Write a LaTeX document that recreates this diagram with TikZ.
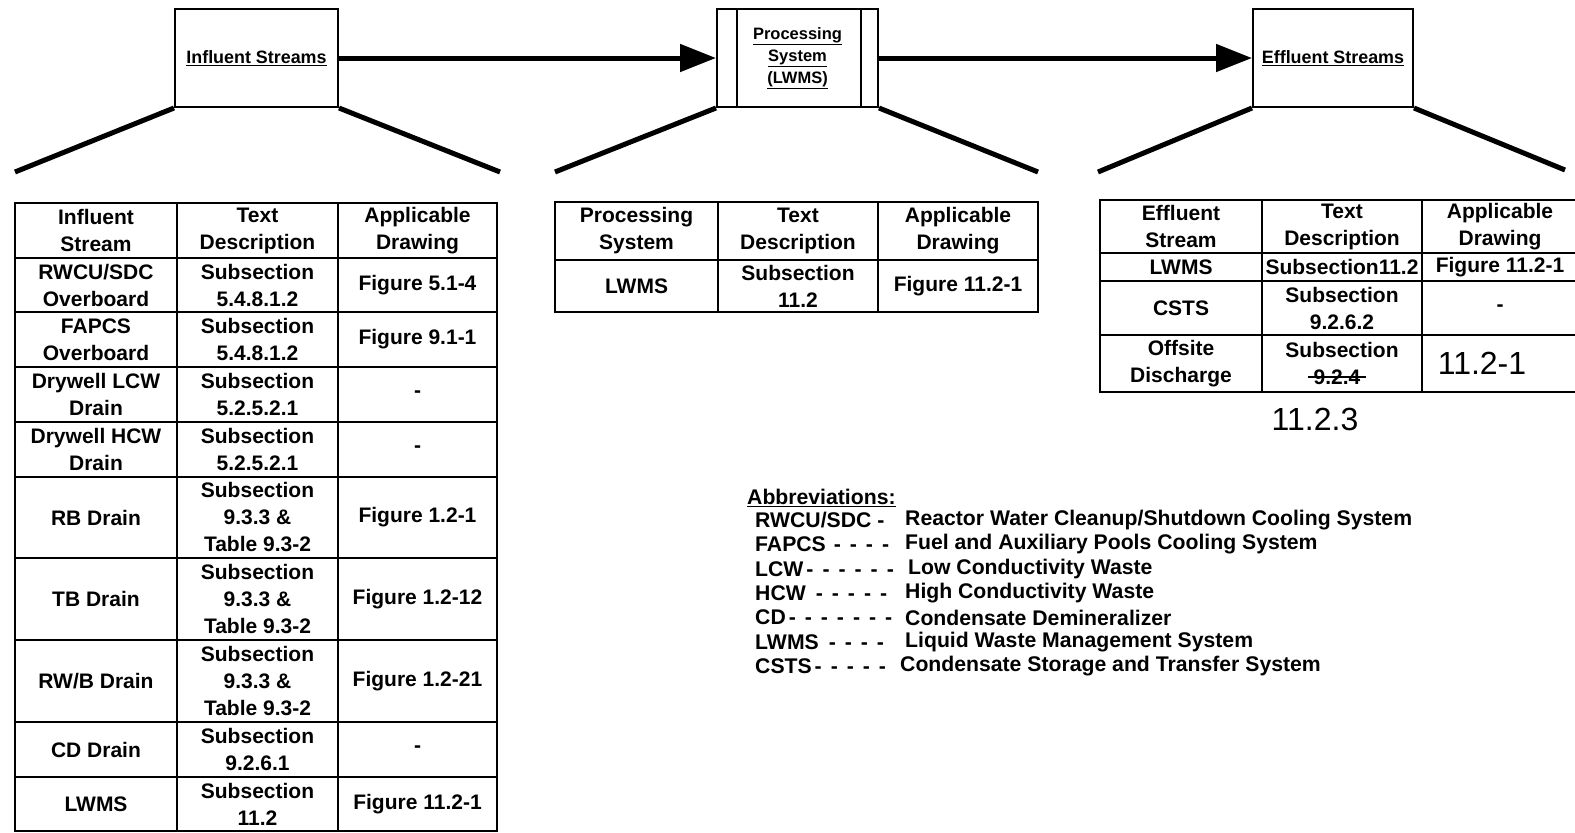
\documentclass[tikz,border=0pt]{standalone}
\usepackage{fontspec}
\usetikzlibrary{arrows.meta}
\newfontfamily\tabfont{Liberation Sans}
\newfontfamily\handfont{Liberation Sans}
\newcommand{\dsh}{\hspace{9pt}-}

\begin{document}
\begin{tikzpicture}[x=1pt,y=-1pt,
    box/.style={draw,line width=2pt,inner sep=0pt},
    lbl/.style={font=\tabfont\bfseries\fontsize{17.9}{23}\selectfont,align=center},
    flow/.style={line width=5pt,-{Triangle[length=36pt,width=27pt]}},
    funnel/.style={line width=5pt},
    tabline/.style={line width=2.5pt},
    colline/.style={line width=2pt},
    cell/.style={font=\tabfont\bfseries\fontsize{21}{27}\selectfont,align=center,inner sep=0pt},
    abb/.style={font=\tabfont\bfseries\fontsize{21.2}{25}\selectfont,anchor=west,inner sep=0pt},
    hand/.style={font=\handfont\fontsize{32}{34}\selectfont,inner sep=0pt}]
    \useasboundingbox (0,0) rectangle (1575,833);

    % the three blocks and the flow between them
    \node[box,lbl,minimum width=163pt,minimum height=98pt] (infBox) at (256.5,58) {\underline{Influent Streams}};
    \node[box,lbl,font=\tabfont\bfseries\fontsize{16.5}{22}\selectfont,minimum width=161pt,minimum height=98pt] (procBox) at (797.5,58) {\underline{Processing}\\\underline{System}\\\underline{(LWMS)}};
    \node[box,lbl,minimum width=160pt,minimum height=98pt] (effBox) at (1333,58) {\underline{Effluent Streams}};
    \draw[line width=2pt] ([xshift=21pt]procBox.north west) -- ([xshift=21pt]procBox.south west);
    \draw[line width=2pt] ([xshift=-18pt]procBox.north east) -- ([xshift=-18pt]procBox.south east);

    \draw[flow] (infBox.east) -- (procBox.west);
    \draw[flow] (procBox.east) -- (effBox.west);

    % funnels down to the tables
    \coordinate (infL) at (15,172);
    \coordinate (infR) at (500,172);
    \coordinate (procL) at (555,172);
    \coordinate (procR) at (1038,172);
    \coordinate (effL) at (1098,172);
    \coordinate (effR) at (1565,170);
    \draw[funnel] (infBox.south west) -- (infL);
    \draw[funnel] (infBox.south east) -- (infR);
    \draw[funnel] (procBox.south west) -- (procL);
    \draw[funnel] (procBox.south east) -- (procR);
    \draw[funnel] (effBox.south west) -- (effL);
    \draw[funnel] (effBox.south east) -- (effR);

    % influent table
    \draw[tabline] (15,203) rectangle (497,831);
    \draw[tabline] (15,258) -- (497,258);
    \draw[tabline] (15,312) -- (497,312);
    \draw[tabline] (15,367) -- (497,367);
    \draw[tabline] (15,422) -- (497,422);
    \draw[tabline] (15,477) -- (497,477);
    \draw[tabline] (15,558) -- (497,558);
    \draw[tabline] (15,640) -- (497,640);
    \draw[tabline] (15,722) -- (497,722);
    \draw[tabline] (15,777) -- (497,777);
    \draw[colline] (177,203) -- (177,831);
    \draw[colline] (338,203) -- (338,831);

    \node[cell] (infHdA) at (96,230.5) {Influent\\Stream};
    \node[cell] (infHdB) at (257.5,230.5) {Text\\Description};
    \node[cell] (infHdC) at (417.5,230.5) {Applicable\\Drawing};
    \node[cell] (inf1A) at (96,285) {RWCU/SDC\\Overboard};
    \node[cell] (inf1B) at (257.5,285) {Subsection\\5.4.8.1.2};
    \node[cell] (inf1C) at (417.5,285) {Figure 5.1-4};
    \node[cell] (inf2A) at (96,339.5) {FAPCS\\Overboard};
    \node[cell] (inf2B) at (257.5,339.5) {Subsection\\5.4.8.1.2};
    \node[cell] (inf2C) at (417.5,339.5) {Figure 9.1-1};
    \node[cell] (inf3A) at (96,394.5) {Drywell LCW\\Drain};
    \node[cell] (inf3B) at (257.5,394.5) {Subsection\\5.2.5.2.1};
    \node[cell] (inf3C) at (417.5,394.5) {-};
    \node[cell] (inf4A) at (96,449.5) {Drywell HCW\\Drain};
    \node[cell] (inf4B) at (257.5,449.5) {Subsection\\5.2.5.2.1};
    \node[cell] (inf4C) at (417.5,449.5) {-};
    \node[cell] (inf5A) at (96,517.5) {RB Drain};
    \node[cell] (inf5B) at (257.5,517.5) {Subsection\\9.3.3 \&\\Table 9.3-2};
    \node[cell] (inf5C) at (417.5,517.5) {Figure 1.2-1};
    \node[cell] (inf6A) at (96,599) {TB Drain};
    \node[cell] (inf6B) at (257.5,599) {Subsection\\9.3.3 \&\\Table 9.3-2};
    \node[cell] (inf6C) at (417.5,599) {Figure 1.2-12};
    \node[cell] (inf7A) at (96,681) {RW/B Drain};
    \node[cell] (inf7B) at (257.5,681) {Subsection\\9.3.3 \&\\Table 9.3-2};
    \node[cell] (inf7C) at (417.5,681) {Figure 1.2-21};
    \node[cell] (inf8A) at (96,749.5) {CD Drain};
    \node[cell] (inf8B) at (257.5,749.5) {Subsection\\9.2.6.1};
    \node[cell] (inf8C) at (417.5,749.5) {-};
    \node[cell] (inf9A) at (96,804) {LWMS};
    \node[cell] (inf9B) at (257.5,804) {Subsection\\11.2};
    \node[cell] (inf9C) at (417.5,804) {Figure 11.2-1};

    % processing table
    \draw[tabline] (555,202) rectangle (1038,312);
    \draw[tabline] (555,260) -- (1038,260);
    \draw[colline] (718,202) -- (718,312);
    \draw[colline] (878,202) -- (878,312);

    \node[cell] (procHdA) at (636.5,231) {Processing\\System};
    \node[cell] (procHdB) at (798,231) {Text\\Description};
    \node[cell] (procHdC) at (958,231) {Applicable\\Drawing};
    \node[cell] (proc1A) at (636.5,286) {LWMS};
    \node[cell] (proc1B) at (798,286) {Subsection\\11.2};
    \node[cell] (proc1C) at (958,286) {Figure 11.2-1};

    % effluent table
    \draw[tabline] (1575,200) -- (1100,200) -- (1100,392) -- (1575,392);
    \draw[tabline] (1100,253) -- (1575,253);
    \draw[tabline] (1100,281) -- (1575,281);
    \draw[tabline] (1100,335) -- (1575,335);
    \draw[colline] (1262,200) -- (1262,392);
    \draw[colline] (1422,200) -- (1422,392);

    \node[cell] (effHdA) at (1181,226.5) {Effluent\\Stream};
    \node[cell] (effHdB) at (1342,226.5) {Text\\Description};
    \node[cell] (effHdC) at (1500,226.5) {Applicable\\Drawing};
    \node[cell] (eff1A) at (1181,267) {LWMS};
    \node[cell] (eff1B) at (1342,267) {Subsection11.2};
    \node[cell] (eff1C) at (1500,267) {Figure 11.2-1};
    \node[cell] (eff2A) at (1181,308) {CSTS};
    \node[cell] (eff2B) at (1342,308) {Subsection\\9.2.6.2};
    \node[cell] (eff2C) at (1500,308) {-};
    \node[cell] (eff3A) at (1181,363.5) {Offsite\\Discharge};
    \node[cell] (eff3B) at (1342,350) {Subsection};
    \node[cell] (effOld) at (1337,377) {9.2.4};
    \draw[line width=1.5pt] ([xshift=-5pt]effOld.west) -- ([xshift=5pt]effOld.east);
    \node[hand] (effNewFig) at (1482,363) {11.2-1};
    \node[hand] (effNewSub) at (1315,419) {11.2.3};

    % abbreviations
    \node[abb] (abbHead) at (747,498) {\underline{Abbreviations:}};
    \node[abb] (abbT1) at (755,520) {RWCU/SDC\hspace{6pt}-};
    \node[abb] (abbD1) at (905,520) {Reactor Water Cleanup/Shutdown Cooling System};
    \node[abb] (abbT2) at (755,544.5) {FAPCS\hspace{8pt}-\dsh\dsh\dsh};
    \node[abb] (abbD2) at (905,544.5) {Fuel and Auxiliary Pools Cooling System};
    \node[abb] (abbT3) at (755,569) {LCW\hspace{3pt}-\dsh\dsh\dsh\dsh\dsh};
    \node[abb] (abbD3) at (908,569) {Low Conductivity Waste};
    \node[abb] (abbT4) at (755,593) {HCW\hspace{10pt}-\dsh\dsh\dsh\dsh};
    \node[abb] (abbD4) at (905,593) {High Conductivity Waste};
    \node[abb] (abbT5) at (755,617.5) {CD\hspace{3pt}-\dsh\dsh\dsh\dsh\dsh\dsh};
    \node[abb] (abbD5) at (905,617.5) {Condensate Demineralizer};
    \node[abb] (abbT6) at (755,642) {LWMS\hspace{10pt}-\dsh\dsh\dsh};
    \node[abb] (abbD6) at (905,642) {Liquid Waste Management System};
    \node[abb] (abbT7) at (755,666) {CSTS\hspace{3pt}-\dsh\dsh\dsh\dsh};
    \node[abb] (abbD7) at (900,666) {Condensate Storage and Transfer System};

\end{tikzpicture}
\end{document}
